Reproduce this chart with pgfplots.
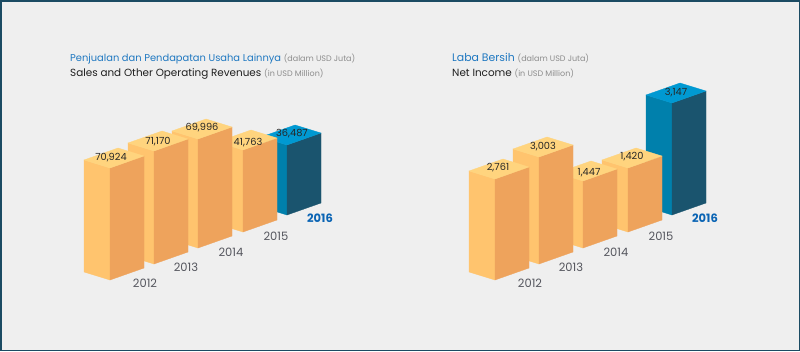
\documentclass[border=0pt]{standalone}
\usepackage{pgfplots}
\pgfplotsset{compat=1.18}
\usepackage{fontspec}
\setmainfont{Poppins}
\definecolor{bg}{HTML}{EFEFEF}
\definecolor{frame}{HTML}{1B4B63}
\definecolor{oTop}{HTML}{FFD47E}
\definecolor{oLeft}{HTML}{FFC46E}
\definecolor{oRight}{HTML}{EEA35C}
\definecolor{bTop}{HTML}{0099D2}
\definecolor{bLeft}{HTML}{0080AC}
\definecolor{bRight}{HTML}{1A546E}
\definecolor{titleblue}{HTML}{1F78C1}
\definecolor{unitgrey}{HTML}{8C8C8C}
\definecolor{yeargrey}{HTML}{55565E}
\definecolor{yearblue}{HTML}{0A64B4}
\tikzset{
  faceOT/.style={fill=oTop, draw=oTop, line width=0.3pt},
  faceOL/.style={fill=oLeft, draw=oLeft, line width=0.3pt},
  faceOR/.style={fill=oRight, draw=oRight, line width=0.3pt},
  faceBT/.style={fill=bTop, draw=bTop, line width=0.3pt},
  faceBL/.style={fill=bLeft, draw=bLeft, line width=0.3pt},
  faceBR/.style={fill=bRight, draw=bRight, line width=0.3pt},
  vallab/.style={font=\fontsize{9.8}{10}\selectfont, text=black!85, inner sep=0pt, anchor=center},
  yrlab/.style={font=\fontsize{11.5}{12}\selectfont, text=yeargrey, inner sep=0pt, anchor=center},
  yrblab/.style={font=\bfseries\fontsize{11.5}{12}\selectfont, text=yearblue, inner sep=0pt, anchor=center},
  ttl/.style={anchor=base west, inner sep=0pt},
}
\newcommand{\unit}[1]{\textcolor{unitgrey}{\fontsize{8}{8}\selectfont(#1)}}
\begin{document}
\begin{tikzpicture}
\begin{axis}[
  width=800pt, height=351pt, scale only axis,
  xmin=0, xmax=800, ymin=0, ymax=351, y dir=reverse,
  axis lines=none, clip=false,
]
\path[fill=bg, draw=frame, line width=1.5pt] (axis cs:0.75,0.75) rectangle (axis cs:799.25,350.25);

% ---------- Left chart: Sales and Other Operating Revenues ----------
% 2016
\addplot[faceBL] coordinates {(261,137) (287,145) (287,215) (261,207)} -- cycle;
\addplot[faceBR] coordinates {(287,145) (321,133) (321,203) (287,215)} -- cycle;
\addplot[faceBT] coordinates {(261,137) (287,145) (321,133) (295,125)} -- cycle;
% 2015
\addplot[faceOL] coordinates {(217,142) (243,150) (243,232) (217,224)} -- cycle;
\addplot[faceOR] coordinates {(243,150) (277,138) (277,220) (243,232)} -- cycle;
\addplot[faceOT] coordinates {(217,142) (243,150) (277,138) (251,130)} -- cycle;
% 2014
\addplot[faceOL] coordinates {(172,131) (198,139) (198,248) (172,240)} -- cycle;
\addplot[faceOR] coordinates {(198,139) (232,127) (232,236) (198,248)} -- cycle;
\addplot[faceOT] coordinates {(172,131) (198,139) (232,127) (206,119)} -- cycle;
% 2013
\addplot[faceOL] coordinates {(128,143) (154,151) (154,264) (128,256)} -- cycle;
\addplot[faceOR] coordinates {(154,151) (188,139) (188,252) (154,264)} -- cycle;
\addplot[faceOT] coordinates {(128,143) (154,151) (188,139) (162,131)} -- cycle;
% 2012
\addplot[faceOL] coordinates {(84,160) (110,168) (110,280) (84,272)} -- cycle;
\addplot[faceOR] coordinates {(110,168) (144,156) (144,268) (110,280)} -- cycle;
\addplot[faceOT] coordinates {(84,160) (110,168) (144,156) (118,148)} -- cycle;

\node[vallab] at (axis cs:111,158) {70,924};
\node[vallab] at (axis cs:158,141.5) {71,170};
\node[vallab] at (axis cs:202,127.5) {69,996};
\node[vallab] at (axis cs:248,143) {41,763};
\node[vallab] at (axis cs:292,134) {36,487};

\node[yrlab] at (axis cs:145,283.5) {2012};
\node[yrlab] at (axis cs:186,267.5) {2013};
\node[yrlab] at (axis cs:231,252) {2014};
\node[yrlab] at (axis cs:276,236) {2015};
\node[yrblab] at (axis cs:320,218.5) {2016};

\node[ttl, font=\fontsize{9.9}{12}\selectfont] at (axis cs:70,61.5)
  {\textcolor{titleblue}{Penjualan dan Pendapatan Usaha Lainnya} \unit{dalam USD Juta}};
\node[ttl, font=\fontsize{10.4}{12}\selectfont] at (axis cs:70,76.5)
  {\textcolor{black!88}{Sales and Other Operating Revenues} \unit{in USD Million}};

% ---------- Right chart: Net Income ----------
% 2016
\addplot[faceBL] coordinates {(646,95) (672,103) (672,215) (646,207)} -- cycle;
\addplot[faceBR] coordinates {(672,103) (706,91) (706,203) (672,215)} -- cycle;
\addplot[faceBT] coordinates {(646,95) (672,103) (706,91) (680,83)} -- cycle;
% 2015
\addplot[faceOL] coordinates {(602,160) (628,168) (628,232) (602,224)} -- cycle;
\addplot[faceOR] coordinates {(628,168) (662,156) (662,220) (628,232)} -- cycle;
\addplot[faceOT] coordinates {(602,160) (628,168) (662,156) (636,148)} -- cycle;
% 2014
\addplot[faceOL] coordinates {(557,173) (583,181) (583,248) (557,240)} -- cycle;
\addplot[faceOR] coordinates {(583,181) (617,169) (617,236) (583,248)} -- cycle;
\addplot[faceOT] coordinates {(557,173) (583,181) (617,169) (591,161)} -- cycle;
% 2013
\addplot[faceOL] coordinates {(513,149) (539,157) (539,264) (513,256)} -- cycle;
\addplot[faceOR] coordinates {(539,157) (573,145) (573,252) (539,264)} -- cycle;
\addplot[faceOT] coordinates {(513,149) (539,157) (573,145) (547,137)} -- cycle;
% 2012
\addplot[faceOL] coordinates {(469,171) (495,179) (495,280) (469,272)} -- cycle;
\addplot[faceOR] coordinates {(495,179) (529,167) (529,268) (495,280)} -- cycle;
\addplot[faceOT] coordinates {(469,171) (495,179) (529,167) (503,159)} -- cycle;

\node[vallab] at (axis cs:498,168) {2,761};
\node[vallab] at (axis cs:543,147) {3,003};
\node[vallab] at (axis cs:589,172.5) {1,447};
\node[vallab] at (axis cs:632,157) {1,420};
\node[vallab] at (axis cs:676,93) {3,147};

\node[yrlab] at (axis cs:530,283.5) {2012};
\node[yrlab] at (axis cs:571,267.5) {2013};
\node[yrlab] at (axis cs:616,252) {2014};
\node[yrlab] at (axis cs:661,236) {2015};
\node[yrblab] at (axis cs:705,218.5) {2016};

\node[ttl, font=\fontsize{10.9}{12}\selectfont] at (axis cs:452,61.5)
  {\textcolor{titleblue}{Laba Bersih} \unit{dalam USD Juta}};
\node[ttl, font=\fontsize{10.4}{12}\selectfont] at (axis cs:452,76.5)
  {\textcolor{black!88}{Net Income} \unit{in USD Million}};
\end{axis}
\end{tikzpicture}
\end{document}
